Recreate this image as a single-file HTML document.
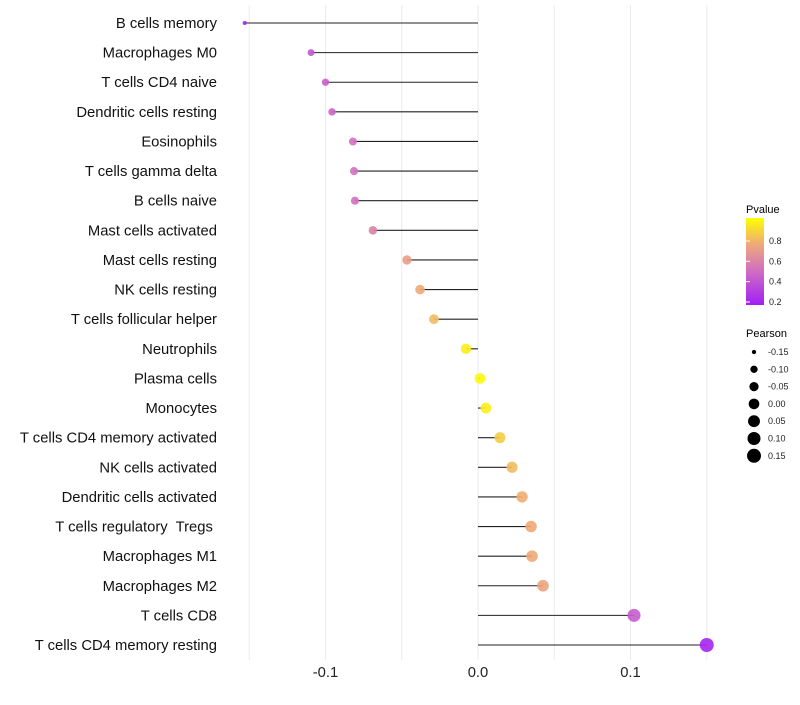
<!DOCTYPE html>
<html><head><meta charset="utf-8"><style>
body{margin:0;background:#fff;font-family:"Liberation Sans",sans-serif}
svg text{font-family:"Liberation Sans",sans-serif;white-space:pre}
</style></head><body>
<svg id="chart" width="800" height="700" xmlns="http://www.w3.org/2000/svg">
<defs><linearGradient id="pg" x1="0" y1="1" x2="0" y2="0">
<stop offset="0" stop-color="#a11ff5"/><stop offset="0.4" stop-color="#d170c0"/><stop offset="0.7" stop-color="#eeaa77"/><stop offset="1" stop-color="#ffff00"/></linearGradient></defs>
<g id="grid"></g><g id="marks"></g><g id="labels"></g><g id="xaxis"></g>
<g id="legend">
<text x="746" y="213" font-size="11">Pvalue</text>
<rect x="746" y="218" width="18" height="87" fill="url(#pg)"/>
<g id="cbticks"></g>
<text x="746" y="337" font-size="11">Pearson</text>
<g id="sizeleg"></g>
</g>
</svg>
<script>
const categories=["B cells memory","Macrophages M0","T cells CD4 naive","Dendritic cells resting","Eosinophils","T cells gamma delta","B cells naive","Mast cells activated","Mast cells resting","NK cells resting","T cells follicular helper","Neutrophils","Plasma cells","Monocytes","T cells CD4 memory activated","NK cells activated","Dendritic cells activated","T cells regulatory  Tregs ","Macrophages M1","Macrophages M2","T cells CD8","T cells CD4 memory resting"];
const pearson=[-0.153,-0.1095,-0.100,-0.0957,-0.082,-0.0813,-0.0807,-0.0689,-0.0466,-0.038,-0.0289,-0.0079,0.0013,0.0052,0.0144,0.0223,0.0289,0.0348,0.0354,0.0426,0.1023,0.150];
const pvalue=[0.17,0.4,0.44,0.46,0.5,0.5,0.5,0.58,0.7,0.75,0.8,0.95,0.98,0.95,0.85,0.8,0.76,0.75,0.75,0.72,0.42,0.2];
const xTicks=[-0.1,0,0.1];
const xTickLabels=["-0.1","0.0","0.1"];
const cbTicks=[0.2,0.4,0.6,0.8];
const sizeLegend=[-0.15,-0.10,-0.05,0.00,0.05,0.10,0.15];
const NS="http://www.w3.org/2000/svg";
function X(v){return 478+v*1525;}
function Y(i){return 23+i*(622/21);}
function R(v){const f=Math.max(0,Math.min(1,(v+0.153)/0.303));return Math.sqrt(1+35*f)+1;}
function CB(p){return 302-(p-0.2)*101.7;}
const stops=[[0.17,[161,31,245]],[0.5,[209,112,192]],[0.75,[238,170,119]],[1.0,[255,255,0]]];
function col(p){p=Math.max(0.17,Math.min(1,p));for(let k=0;k<stops.length-1;k++){const a=stops[k],b=stops[k+1];if(p<=b[0]){const t=(p-a[0])/(b[0]-a[0]);const c=a[1].map((x,j)=>Math.round(x+(b[1][j]-x)*t));return `rgb(${c.join(',')})`;}}return 'rgb(255,255,0)';}
function mk(tag,attrs,parent,txt){const e=document.createElementNS(NS,tag);for(const k in attrs)e.setAttribute(k,attrs[k]);if(txt!==undefined)e.textContent=txt;document.getElementById(parent).appendChild(e);return e;}
for(let v=-0.15;v<=0.151;v+=0.05){const e=mk('line',{x1:X(v),x2:X(v),y1:5,y2:660,stroke:'#ebebeb','stroke-width':1},'grid');

}
categories.forEach((c,i)=>{const y=Y(i);
const s=mk('line',{x1:X(0),x2:X(pearson[i]),y1:y,y2:y,stroke:'#222','stroke-width':1.1},'marks');


const d=mk('circle',{cx:X(pearson[i]),cy:y,r:R(pearson[i]),fill:col(pvalue[i]),'fill-opacity':0.9},'marks');


const t=mk('text',{x:217,y:y+5,'text-anchor':'end','font-size':14.8,fill:'#111'},'labels',c);

});
xTicks.forEach((v,i)=>{const t=mk('text',{x:X(v),y:677,'text-anchor':'middle','font-size':14.8,fill:'#222'},'xaxis',xTickLabels[i]);

});
cbTicks.forEach(p=>{const y=CB(p);
const l=mk('line',{x1:746,x2:750,y1:y,y2:y,stroke:'#fff'},'cbticks');


const t=mk('text',{x:769,y:y+3,'font-size':9,fill:'#222'},'cbticks',p.toFixed(1));

});
sizeLegend.forEach((v,i)=>{const y=352+i*17.3;
const c=mk('circle',{cx:754,cy:y,r:R(v),fill:'#000'},'sizeleg');


const t=mk('text',{x:768,y:y+3,'font-size':9,fill:'#222'},'sizeleg',v.toFixed(2));

});
</script>
</body></html>
